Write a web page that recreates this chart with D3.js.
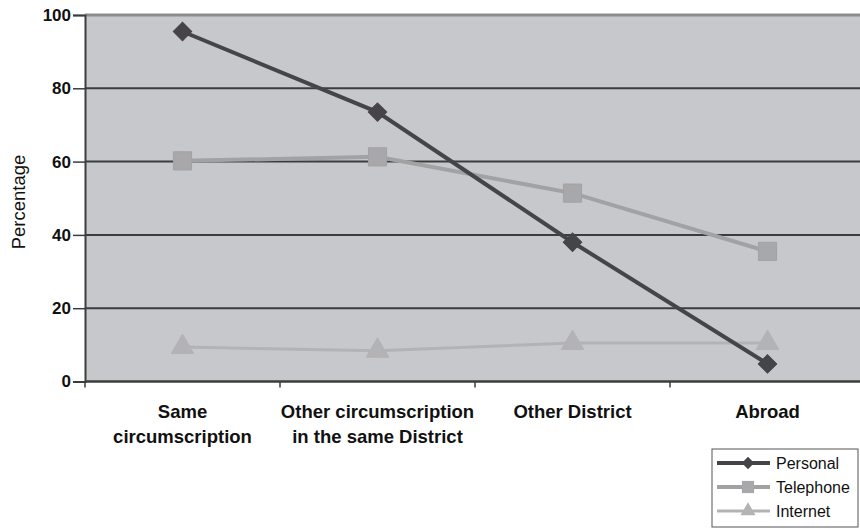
<!DOCTYPE html>
<html>
<head>
<meta charset="utf-8">
<script src="https://cdn.jsdelivr.net/npm/d3@7"></script>
<style>
  body { margin: 0; background: #fff; }
  svg { display: block; font-family: "Liberation Sans", Arial, sans-serif; }
</style>
</head>
<body>
<div class="chart"></div>
<script>
// data
const categories = [
  ["Same", "circumscription"],
  ["Other circumscription", "in the same District"],
  ["Other District"],
  ["Abroad"]
];
const personal = [95.5, 73.5, 38, 4.8];
const telephone = [60.2, 61.3, 51.4, 35.5];
const internet = [9.4, 8.4, 10.5, 10.5];
const yTicks = [0, 20, 40, 60, 80, 100];
const seriesNames = ["Personal", "Telephone", "Internet"];

// dimensions - plot area runs off the right edge like the original
const margin = { top: 15, right: 0, bottom: 147.5, left: 85 },
  width = 780,
  height = 529 - margin.top - margin.bottom;

// rotate: diamond is a square turned 45 degrees
const series = [
  { name: seriesNames[0], values: personal, color: "#454448", fill: "#454448", shape: d3.symbolSquare, rotate: 45, size: 170, width: 4 },
  { name: seriesNames[1], values: telephone, color: "#a2a2a4", fill: "#a8a8aa", shape: d3.symbolSquare, rotate: 0, size: 330, width: 4 },
  { name: seriesNames[2], values: internet, color: "#b3b3b5", fill: "#b3b3b5", shape: d3.symbolTriangle, rotate: 0, size: 220, width: 3 }
];

const svg = d3.select(".chart")
  .append("svg")
  .attr("width", 860)
  .attr("height", 529)
  .append("g")
  .attr("transform", "translate(" + margin.left + "," + margin.top + ")");

const x = d3.scaleBand()
  .domain(d3.range(categories.length))
  .range([0, width])
  .padding(0);

const y = d3.scaleLinear()
  .domain([0, 100])
  .range([height, 0]);

drawBackground();
drawAxes();
drawLines();
drawLegend();

//grey plot area with the horizontal gridlines
function drawBackground() {
  svg.append("rect")
    .attr("x", 0)
    .attr("y", 0)
    .attr("width", width)
    .attr("height", height)
    .attr("fill", "#c6c8cb");

  svg.append("g")
    .selectAll("line")
    .data(yTicks.filter(function (d) { return d > 0 && d < 100; }))
    .enter()
    .append("line")
    .attr("x1", 0)
    .attr("x2", width)
    .attr("y1", function (d) { return y(d); })
    .attr("y2", function (d) { return y(d); })
    .attr("stroke", "#3c3c3e")
    .attr("stroke-width", 2);

  // top border is a lighter thick line
  svg.append("line")
    .attr("x1", 0)
    .attr("x2", width)
    .attr("y1", y(100))
    .attr("y2", y(100))
    .attr("stroke", "#8c8c8e")
    .attr("stroke-width", 3);
}

function drawAxes() {
  const yAxis = svg.append("g")
    .call(d3.axisLeft(y).tickValues(yTicks).tickSize(12).tickPadding(2));
  yAxis.select(".domain").attr("stroke", "#3c3c3e").attr("stroke-width", 2);
  yAxis.selectAll(".tick line").attr("stroke", "#3c3c3e").attr("stroke-width", 1.5);
  yAxis.selectAll(".tick text")
    .attr("fill", "#111")
    .style("font-size", "17px")
    .style("font-weight", "bold")
    .style("font-family", "Liberation Sans, Arial, sans-serif");

  // x axis: ticks sit on the category boundaries
  const xg = svg.append("g").attr("transform", "translate(0," + height + ")");
  xg.append("line")
    .attr("x1", 0).attr("x2", width)
    .attr("stroke", "#3c3c3e").attr("stroke-width", 2.5);
  xg.selectAll(".xtick")
    .data(d3.range(categories.length + 1))
    .enter()
    .append("line")
    .attr("x1", function (i) { return i * x.step(); })
    .attr("x2", function (i) { return i * x.step(); })
    .attr("y1", 0).attr("y2", 6)
    .attr("stroke", "#3c3c3e").attr("stroke-width", 1.5);

  const labels = xg.selectAll(".xlabel")
    .data(categories)
    .enter()
    .append("text")
    .attr("text-anchor", "middle")
    .attr("x", function (d, i) { return x(i) + x.bandwidth() / 2; })
    .attr("y", 36)
    .style("font-size", "18.5px")
    .style("font-weight", "bold")
    .attr("fill", "#111");
  labels.selectAll("tspan")
    .data(function (d) { return d; })
    .enter()
    .append("tspan")
    .attr("x", function () { return d3.select(this.parentNode).attr("x"); })
    .attr("dy", function (d, i) { return i === 0 ? 0 : 25; })
    .text(function (d) { return d; });

  svg.append("text")
    .attr("text-anchor", "middle")
    .attr("transform", "rotate(-90)")
    .attr("x", -(202 - margin.top))
    .attr("y", -60)
    .style("font-size", "18.5px")
    .attr("fill", "#111")
    .text("Percentage");
}

function drawLines() {
  const line = d3.line()
    .x(function (d, i) { return x(i) + x.bandwidth() / 2; })
    .y(function (d) { return y(d); });

  // draw lighter series first so Personal sits on top
  series.slice().reverse().forEach(function (s) {
    svg.append("path")
      .datum(s.values)
      .attr("fill", "none")
      .attr("stroke", s.color)
      .attr("stroke-width", s.width)
      .attr("d", line);

    svg.selectAll(null)
      .data(s.values)
      .enter()
      .append("path")
      .attr("d", d3.symbol().type(s.shape).size(s.size))
      .attr("transform", function (d, i) {
        return "translate(" + (x(i) + x.bandwidth() / 2) + "," + y(d) + ") rotate(" + s.rotate + ")";
      })
      .attr("fill", s.fill)
      .attr("stroke", s.color)
      .attr("stroke-width", 1);
  });
}

function drawLegend() {
  const legend = d3.select(".chart svg").append("g")
    .attr("class", "legend")
    .attr("transform", "translate(712,449)");

  legend.append("rect")
    .attr("width", 146)
    .attr("height", 78)
    .attr("fill", "#fff")
    .attr("stroke", "#555")
    .attr("stroke-width", 1);

  const items = legend.selectAll(".legend-item")
    .data(series)
    .enter()
    .append("g")
    .attr("class", "legend-item")
    .attr("transform", function (d, i) { return "translate(0," + (14 + i * 24) + ")"; });

  items.append("line")
    .attr("x1", 5).attr("x2", 58)
    .attr("stroke", function (d) { return d.color; })
    .attr("stroke-width", function (d) { return d.width; });

  items.append("path")
    .attr("d", function (d) { return d3.symbol().type(d.shape).size(d.size * 0.45)(); })
    .attr("transform", function (d) { return "translate(36,0) rotate(" + d.rotate + ")"; })
    .attr("fill", function (d) { return d.fill; });

  items.append("text")
    .attr("x", 64)
    .attr("y", 6)
    .style("font-size", "16px")
    .attr("fill", "#111")
    .text(function (d) { return d.name; });
}
</script>
</body>
</html>
